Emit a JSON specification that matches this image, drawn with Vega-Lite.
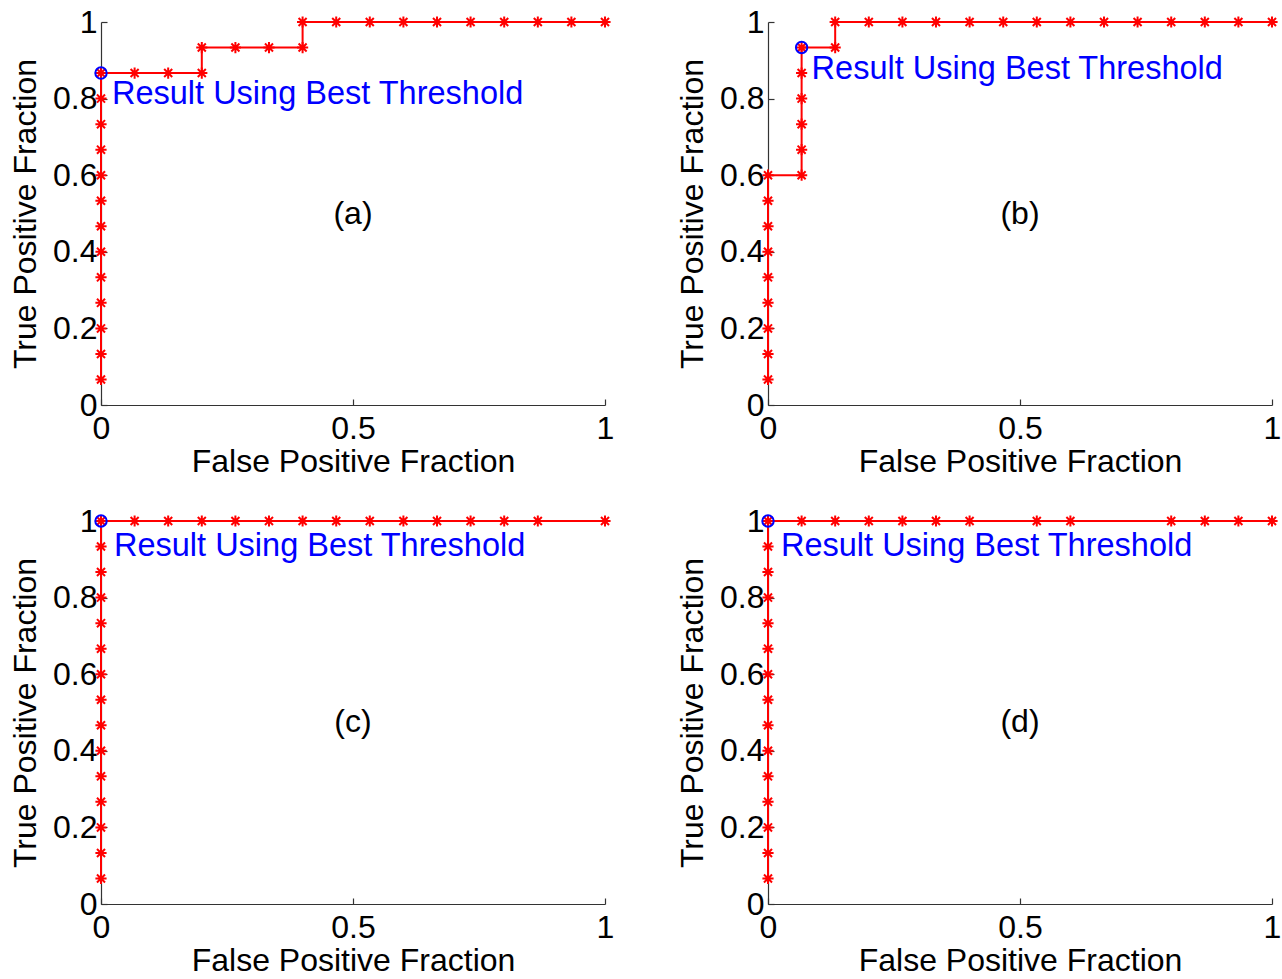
{
  "$schema": "https://vega.github.io/schema/vega-lite/v6.json",
  "autosize": {"type": "pad"},
  "padding": {"left": 9, "top": 6, "right": 0, "bottom": 0},
  "background": "white",
  "config": {
    "view": {"stroke": null},
    "font": "Liberation Sans",
    "axis": {
      "grid": false,
      "domainColor": "#333333",
      "domainWidth": 1.2,
      "tickColor": "#333333",
      "tickWidth": 1.2,
      "tickSize": -6,
      "labelFont": "Liberation Sans",
      "labelFontSize": 32,
      "labelColor": "#000000",
      "labelFlush": false,
      "labelOverlap": false,
      "titleFont": "Liberation Sans",
      "titleFontSize": 32,
      "titleFontWeight": "normal",
      "titleColor": "#000000"
    },
    "axisX": {"labelPadding": 14, "titlePadding": 2},
    "axisY": {"labelPadding": 10, "titlePadding": 10}
  },
  "datasets": {
    "roc": [
    {"panel":"a","i":1,"fpf":0,"tpf":0.0667},
    {"panel":"a","i":2,"fpf":0,"tpf":0.1333},
    {"panel":"a","i":3,"fpf":0,"tpf":0.2},
    {"panel":"a","i":4,"fpf":0,"tpf":0.2667},
    {"panel":"a","i":5,"fpf":0,"tpf":0.3333},
    {"panel":"a","i":6,"fpf":0,"tpf":0.4},
    {"panel":"a","i":7,"fpf":0,"tpf":0.4667},
    {"panel":"a","i":8,"fpf":0,"tpf":0.5333},
    {"panel":"a","i":9,"fpf":0,"tpf":0.6},
    {"panel":"a","i":10,"fpf":0,"tpf":0.6667},
    {"panel":"a","i":11,"fpf":0,"tpf":0.7333},
    {"panel":"a","i":12,"fpf":0,"tpf":0.8},
    {"panel":"a","i":13,"fpf":0,"tpf":0.8667},
    {"panel":"a","i":14,"fpf":0.0667,"tpf":0.8667},
    {"panel":"a","i":15,"fpf":0.1333,"tpf":0.8667},
    {"panel":"a","i":16,"fpf":0.2,"tpf":0.8667},
    {"panel":"a","i":17,"fpf":0.2,"tpf":0.9333},
    {"panel":"a","i":18,"fpf":0.2667,"tpf":0.9333},
    {"panel":"a","i":19,"fpf":0.3333,"tpf":0.9333},
    {"panel":"a","i":20,"fpf":0.4,"tpf":0.9333},
    {"panel":"a","i":21,"fpf":0.4,"tpf":1},
    {"panel":"a","i":22,"fpf":0.4667,"tpf":1},
    {"panel":"a","i":23,"fpf":0.5333,"tpf":1},
    {"panel":"a","i":24,"fpf":0.6,"tpf":1},
    {"panel":"a","i":25,"fpf":0.6667,"tpf":1},
    {"panel":"a","i":26,"fpf":0.7333,"tpf":1},
    {"panel":"a","i":27,"fpf":0.8,"tpf":1},
    {"panel":"a","i":28,"fpf":0.8667,"tpf":1},
    {"panel":"a","i":29,"fpf":0.9333,"tpf":1},
    {"panel":"a","i":30,"fpf":1,"tpf":1},

    {"panel":"b","i":1,"fpf":0,"tpf":0.0667},
    {"panel":"b","i":2,"fpf":0,"tpf":0.1333},
    {"panel":"b","i":3,"fpf":0,"tpf":0.2},
    {"panel":"b","i":4,"fpf":0,"tpf":0.2667},
    {"panel":"b","i":5,"fpf":0,"tpf":0.3333},
    {"panel":"b","i":6,"fpf":0,"tpf":0.4},
    {"panel":"b","i":7,"fpf":0,"tpf":0.4667},
    {"panel":"b","i":8,"fpf":0,"tpf":0.5333},
    {"panel":"b","i":9,"fpf":0,"tpf":0.6},
    {"panel":"b","i":10,"fpf":0.0667,"tpf":0.6},
    {"panel":"b","i":11,"fpf":0.0667,"tpf":0.6667},
    {"panel":"b","i":12,"fpf":0.0667,"tpf":0.7333},
    {"panel":"b","i":13,"fpf":0.0667,"tpf":0.8},
    {"panel":"b","i":14,"fpf":0.0667,"tpf":0.8667},
    {"panel":"b","i":15,"fpf":0.0667,"tpf":0.9333},
    {"panel":"b","i":16,"fpf":0.1333,"tpf":0.9333},
    {"panel":"b","i":17,"fpf":0.1333,"tpf":1},
    {"panel":"b","i":18,"fpf":0.2,"tpf":1},
    {"panel":"b","i":19,"fpf":0.2667,"tpf":1},
    {"panel":"b","i":20,"fpf":0.3333,"tpf":1},
    {"panel":"b","i":21,"fpf":0.4,"tpf":1},
    {"panel":"b","i":22,"fpf":0.4667,"tpf":1},
    {"panel":"b","i":23,"fpf":0.5333,"tpf":1},
    {"panel":"b","i":24,"fpf":0.6,"tpf":1},
    {"panel":"b","i":25,"fpf":0.6667,"tpf":1},
    {"panel":"b","i":26,"fpf":0.7333,"tpf":1},
    {"panel":"b","i":27,"fpf":0.8,"tpf":1},
    {"panel":"b","i":28,"fpf":0.8667,"tpf":1},
    {"panel":"b","i":29,"fpf":0.9333,"tpf":1},
    {"panel":"b","i":30,"fpf":1,"tpf":1},

    {"panel":"c","i":1,"fpf":0,"tpf":0.0667},
    {"panel":"c","i":2,"fpf":0,"tpf":0.1333},
    {"panel":"c","i":3,"fpf":0,"tpf":0.2},
    {"panel":"c","i":4,"fpf":0,"tpf":0.2667},
    {"panel":"c","i":5,"fpf":0,"tpf":0.3333},
    {"panel":"c","i":6,"fpf":0,"tpf":0.4},
    {"panel":"c","i":7,"fpf":0,"tpf":0.4667},
    {"panel":"c","i":8,"fpf":0,"tpf":0.5333},
    {"panel":"c","i":9,"fpf":0,"tpf":0.6},
    {"panel":"c","i":10,"fpf":0,"tpf":0.6667},
    {"panel":"c","i":11,"fpf":0,"tpf":0.7333},
    {"panel":"c","i":12,"fpf":0,"tpf":0.8},
    {"panel":"c","i":13,"fpf":0,"tpf":0.8667},
    {"panel":"c","i":14,"fpf":0,"tpf":0.9333},
    {"panel":"c","i":15,"fpf":0,"tpf":1},
    {"panel":"c","i":16,"fpf":0.0667,"tpf":1},
    {"panel":"c","i":17,"fpf":0.1333,"tpf":1},
    {"panel":"c","i":18,"fpf":0.2,"tpf":1},
    {"panel":"c","i":19,"fpf":0.2667,"tpf":1},
    {"panel":"c","i":20,"fpf":0.3333,"tpf":1},
    {"panel":"c","i":21,"fpf":0.4,"tpf":1},
    {"panel":"c","i":22,"fpf":0.4667,"tpf":1},
    {"panel":"c","i":23,"fpf":0.5333,"tpf":1},
    {"panel":"c","i":24,"fpf":0.6,"tpf":1},
    {"panel":"c","i":25,"fpf":0.6667,"tpf":1},
    {"panel":"c","i":26,"fpf":0.7333,"tpf":1},
    {"panel":"c","i":27,"fpf":0.8,"tpf":1},
    {"panel":"c","i":28,"fpf":0.8667,"tpf":1},
    {"panel":"c","i":29,"fpf":1,"tpf":1},

    {"panel":"d","i":1,"fpf":0,"tpf":0.0667},
    {"panel":"d","i":2,"fpf":0,"tpf":0.1333},
    {"panel":"d","i":3,"fpf":0,"tpf":0.2},
    {"panel":"d","i":4,"fpf":0,"tpf":0.2667},
    {"panel":"d","i":5,"fpf":0,"tpf":0.3333},
    {"panel":"d","i":6,"fpf":0,"tpf":0.4},
    {"panel":"d","i":7,"fpf":0,"tpf":0.4667},
    {"panel":"d","i":8,"fpf":0,"tpf":0.5333},
    {"panel":"d","i":9,"fpf":0,"tpf":0.6},
    {"panel":"d","i":10,"fpf":0,"tpf":0.6667},
    {"panel":"d","i":11,"fpf":0,"tpf":0.7333},
    {"panel":"d","i":12,"fpf":0,"tpf":0.8},
    {"panel":"d","i":13,"fpf":0,"tpf":0.8667},
    {"panel":"d","i":14,"fpf":0,"tpf":0.9333},
    {"panel":"d","i":15,"fpf":0,"tpf":1},
    {"panel":"d","i":16,"fpf":0.0667,"tpf":1},
    {"panel":"d","i":17,"fpf":0.1333,"tpf":1},
    {"panel":"d","i":18,"fpf":0.2,"tpf":1},
    {"panel":"d","i":19,"fpf":0.2667,"tpf":1},
    {"panel":"d","i":20,"fpf":0.3333,"tpf":1},
    {"panel":"d","i":21,"fpf":0.4,"tpf":1},
    {"panel":"d","i":22,"fpf":0.5333,"tpf":1},
    {"panel":"d","i":23,"fpf":0.6,"tpf":1},
    {"panel":"d","i":24,"fpf":0.8,"tpf":1},
    {"panel":"d","i":25,"fpf":0.8667,"tpf":1},
    {"panel":"d","i":26,"fpf":0.9333,"tpf":1},
    {"panel":"d","i":27,"fpf":1,"tpf":1}
    ],
    "best": [
    {"panel":"a","fpf":0,"tpf":0.8667,"label":"Result Using Best Threshold"},
    {"panel":"b","fpf":0.0667,"tpf":0.9333,"label":"Result Using Best Threshold"},
    {"panel":"c","fpf":0,"tpf":1,"label":"Result Using Best Threshold"},
    {"panel":"d","fpf":0,"tpf":1,"label":"Result Using Best Threshold"}
    ],
    "tags": [
    {"panel":"a","fpf":0.5,"tpf":0.5,"label":"(a)"},
    {"panel":"b","fpf":0.5,"tpf":0.5,"label":"(b)"},
    {"panel":"c","fpf":0.5,"tpf":0.475,"label":"(c)"},
    {"panel":"d","fpf":0.5,"tpf":0.475,"label":"(d)"}
    ]
  },
  "columns": 2,
  "spacing": {"row": 116, "column": 163},
  "bounds": "flush",
  "concat": [
    {
      "width": 504, "height": 383,
      "encoding": {
        "x": {"field": "fpf", "type": "quantitative", "scale": {"domain": [0, 1], "nice": false, "zero": false},
              "axis": {"values": [0, 0.5, 1], "format": "~g", "title": "False Positive Fraction"}},
        "y": {"field": "tpf", "type": "quantitative", "scale": {"domain": [0, 1], "nice": false, "zero": false},
              "axis": {"values": [0, 0.2, 0.4, 0.6, 0.8, 1], "format": "~g", "title": "True Positive Fraction"}}
      },
      "layer": [
        {"data": {"name": "roc"}, "transform": [{"filter": "datum.panel === 'a'"}],
         "mark": {"type": "line", "color": "#ff0000", "strokeWidth": 2},
         "encoding": {"order": {"field": "i", "type": "quantitative"}}},
        {"data": {"name": "roc"}, "transform": [{"filter": "datum.panel === 'a'"}],
         "mark": {"type": "point", "shape": "M0,-1L0,1M-1,0L1,0M-0.72,-0.72L0.72,0.72M-0.72,0.72L0.72,-0.72", "filled": false, "stroke": "#ff0000", "strokeWidth": 2, "size": 125, "opacity": 1}},
        {"data": {"name": "best"}, "transform": [{"filter": "datum.panel === 'a'"}],
         "mark": {"type": "point", "shape": "circle", "filled": false, "stroke": "#0000ff", "strokeWidth": 2, "size": 130, "opacity": 1}},
        {"data": {"name": "best"}, "transform": [{"filter": "datum.panel === 'a'"}],
         "mark": {"type": "text", "align": "left", "baseline": "middle", "dx": 11, "dy": 21, "fontSize": 32.5, "color": "#0000ff", "font": "Liberation Sans"},
         "encoding": {"text": {"field": "label"}}},
        {"data": {"name": "tags"}, "transform": [{"filter": "datum.panel === 'a'"}],
         "mark": {"type": "text", "align": "center", "baseline": "middle", "fontSize": 32, "color": "#000000", "font": "Liberation Sans"},
         "encoding": {"text": {"field": "label"}}}
      ]
    },
    {
      "width": 504, "height": 383,
      "encoding": {
        "x": {"field": "fpf", "type": "quantitative", "scale": {"domain": [0, 1], "nice": false, "zero": false},
              "axis": {"values": [0, 0.5, 1], "format": "~g", "title": "False Positive Fraction"}},
        "y": {"field": "tpf", "type": "quantitative", "scale": {"domain": [0, 1], "nice": false, "zero": false},
              "axis": {"values": [0, 0.2, 0.4, 0.6, 0.8, 1], "format": "~g", "title": "True Positive Fraction"}}
      },
      "layer": [
        {"data": {"name": "roc"}, "transform": [{"filter": "datum.panel === 'b'"}],
         "mark": {"type": "line", "color": "#ff0000", "strokeWidth": 2},
         "encoding": {"order": {"field": "i", "type": "quantitative"}}},
        {"data": {"name": "roc"}, "transform": [{"filter": "datum.panel === 'b'"}],
         "mark": {"type": "point", "shape": "M0,-1L0,1M-1,0L1,0M-0.72,-0.72L0.72,0.72M-0.72,0.72L0.72,-0.72", "filled": false, "stroke": "#ff0000", "strokeWidth": 2, "size": 125, "opacity": 1}},
        {"data": {"name": "best"}, "transform": [{"filter": "datum.panel === 'b'"}],
         "mark": {"type": "point", "shape": "circle", "filled": false, "stroke": "#0000ff", "strokeWidth": 2, "size": 130, "opacity": 1}},
        {"data": {"name": "best"}, "transform": [{"filter": "datum.panel === 'b'"}],
         "mark": {"type": "text", "align": "left", "baseline": "middle", "dx": 10, "dy": 21, "fontSize": 32.5, "color": "#0000ff", "font": "Liberation Sans"},
         "encoding": {"text": {"field": "label"}}},
        {"data": {"name": "tags"}, "transform": [{"filter": "datum.panel === 'b'"}],
         "mark": {"type": "text", "align": "center", "baseline": "middle", "fontSize": 32, "color": "#000000", "font": "Liberation Sans"},
         "encoding": {"text": {"field": "label"}}}
      ]
    },
    {
      "width": 504, "height": 383,
      "encoding": {
        "x": {"field": "fpf", "type": "quantitative", "scale": {"domain": [0, 1], "nice": false, "zero": false},
              "axis": {"values": [0, 0.5, 1], "format": "~g", "title": "False Positive Fraction"}},
        "y": {"field": "tpf", "type": "quantitative", "scale": {"domain": [0, 1], "nice": false, "zero": false},
              "axis": {"values": [0, 0.2, 0.4, 0.6, 0.8, 1], "format": "~g", "title": "True Positive Fraction"}}
      },
      "layer": [
        {"data": {"name": "roc"}, "transform": [{"filter": "datum.panel === 'c'"}],
         "mark": {"type": "line", "color": "#ff0000", "strokeWidth": 2},
         "encoding": {"order": {"field": "i", "type": "quantitative"}}},
        {"data": {"name": "roc"}, "transform": [{"filter": "datum.panel === 'c'"}],
         "mark": {"type": "point", "shape": "M0,-1L0,1M-1,0L1,0M-0.72,-0.72L0.72,0.72M-0.72,0.72L0.72,-0.72", "filled": false, "stroke": "#ff0000", "strokeWidth": 2, "size": 125, "opacity": 1}},
        {"data": {"name": "best"}, "transform": [{"filter": "datum.panel === 'c'"}],
         "mark": {"type": "point", "shape": "circle", "filled": false, "stroke": "#0000ff", "strokeWidth": 2, "size": 130, "opacity": 1}},
        {"data": {"name": "best"}, "transform": [{"filter": "datum.panel === 'c'"}],
         "mark": {"type": "text", "align": "left", "baseline": "middle", "dx": 13, "dy": 25, "fontSize": 32.5, "color": "#0000ff", "font": "Liberation Sans"},
         "encoding": {"text": {"field": "label"}}},
        {"data": {"name": "tags"}, "transform": [{"filter": "datum.panel === 'c'"}],
         "mark": {"type": "text", "align": "center", "baseline": "middle", "fontSize": 32, "color": "#000000", "font": "Liberation Sans"},
         "encoding": {"text": {"field": "label"}}}
      ]
    },
    {
      "width": 504, "height": 383,
      "encoding": {
        "x": {"field": "fpf", "type": "quantitative", "scale": {"domain": [0, 1], "nice": false, "zero": false},
              "axis": {"values": [0, 0.5, 1], "format": "~g", "title": "False Positive Fraction"}},
        "y": {"field": "tpf", "type": "quantitative", "scale": {"domain": [0, 1], "nice": false, "zero": false},
              "axis": {"values": [0, 0.2, 0.4, 0.6, 0.8, 1], "format": "~g", "title": "True Positive Fraction"}}
      },
      "layer": [
        {"data": {"name": "roc"}, "transform": [{"filter": "datum.panel === 'd'"}],
         "mark": {"type": "line", "color": "#ff0000", "strokeWidth": 2},
         "encoding": {"order": {"field": "i", "type": "quantitative"}}},
        {"data": {"name": "roc"}, "transform": [{"filter": "datum.panel === 'd'"}],
         "mark": {"type": "point", "shape": "M0,-1L0,1M-1,0L1,0M-0.72,-0.72L0.72,0.72M-0.72,0.72L0.72,-0.72", "filled": false, "stroke": "#ff0000", "strokeWidth": 2, "size": 125, "opacity": 1}},
        {"data": {"name": "best"}, "transform": [{"filter": "datum.panel === 'd'"}],
         "mark": {"type": "point", "shape": "circle", "filled": false, "stroke": "#0000ff", "strokeWidth": 2, "size": 130, "opacity": 1}},
        {"data": {"name": "best"}, "transform": [{"filter": "datum.panel === 'd'"}],
         "mark": {"type": "text", "align": "left", "baseline": "middle", "dx": 13, "dy": 25, "fontSize": 32.5, "color": "#0000ff", "font": "Liberation Sans"},
         "encoding": {"text": {"field": "label"}}},
        {"data": {"name": "tags"}, "transform": [{"filter": "datum.panel === 'd'"}],
         "mark": {"type": "text", "align": "center", "baseline": "middle", "fontSize": 32, "color": "#000000", "font": "Liberation Sans"},
         "encoding": {"text": {"field": "label"}}}
      ]
    }
  ]
}
